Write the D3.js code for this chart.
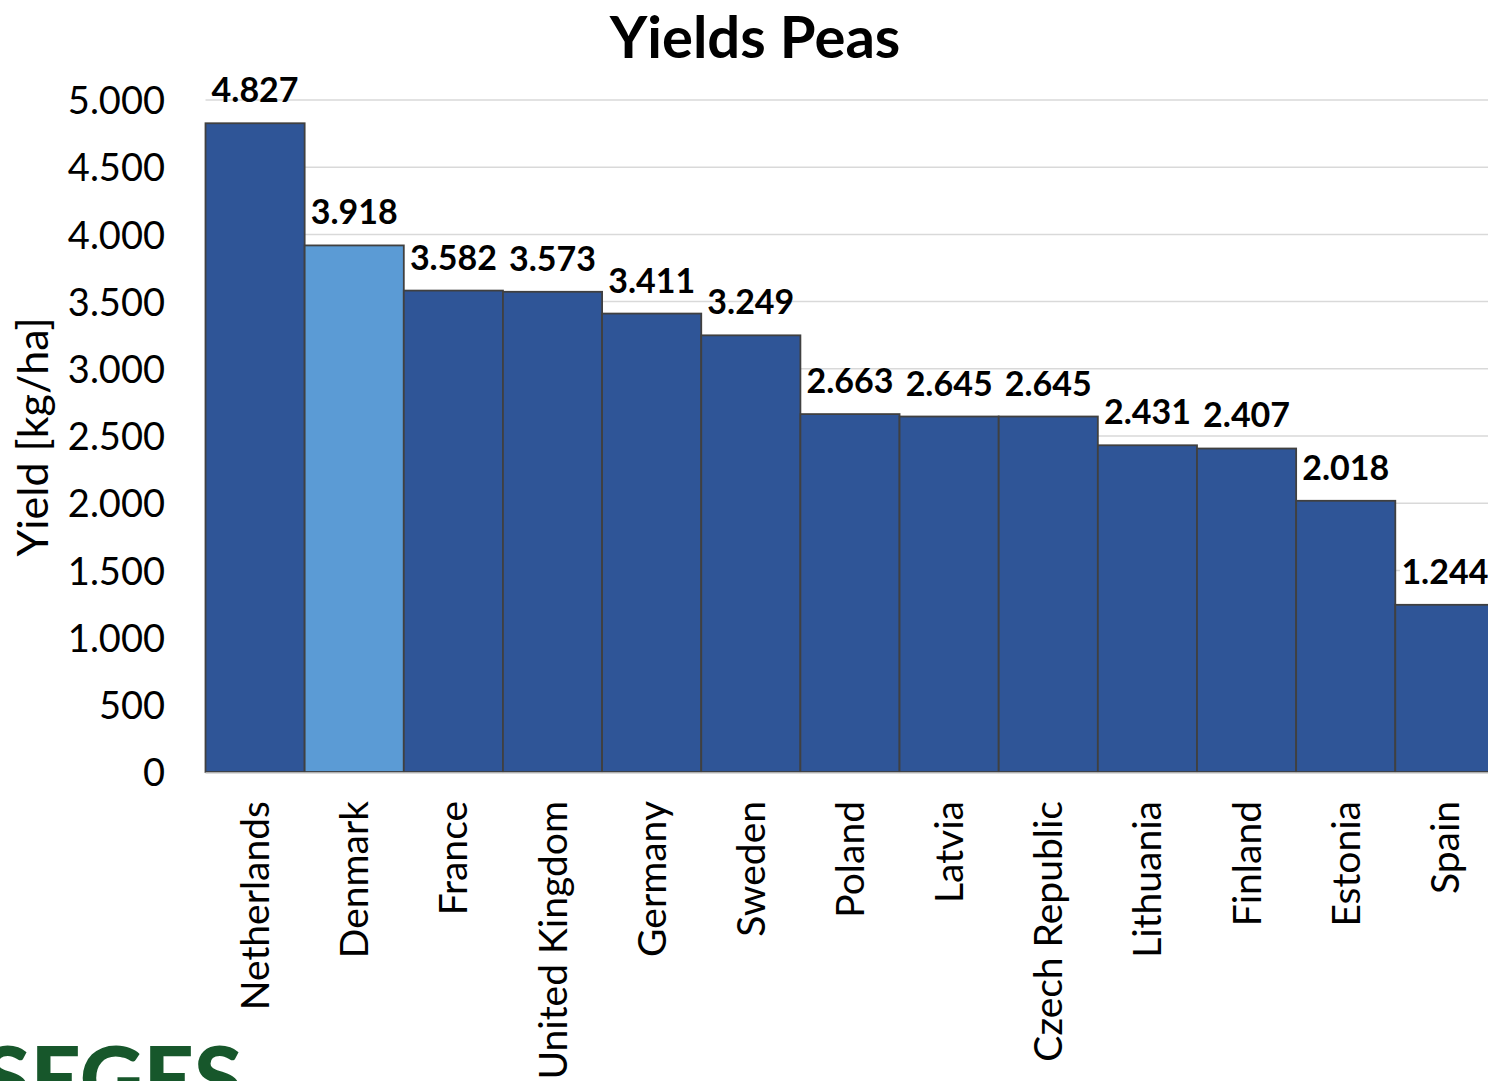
<!DOCTYPE html>
<html><head><meta charset="utf-8">
<script src="https://cdn.jsdelivr.net/npm/d3@7"></script>
<style>body{margin:0;background:#fff;} svg{display:block;font-family:Lato,"Open Sans",sans-serif;}</style>
</head><body>
<svg id="c" width="1488" height="1081"></svg>
<script>
const countries = ["Netherlands","Denmark","France","United Kingdom","Germany","Sweden","Poland","Latvia","Czech Republic","Lithuania","Finland","Estonia","Spain"];
const yields = [4827,3918,3582,3573,3411,3249,2663,2645,2645,2431,2407,2018,1244];
const highlight = ["Denmark"];
const yTicks = [0,500,1000,1500,2000,2500,3000,3500,4000,4500,5000];
const title = "Yields Peas";
const yTitle = "Yield [kg/ha]";

const svg = d3.select("#c");
const plotLeft = 205.5, bandW = 99.15, plotTop = 100, plotBottom = 772;
const x = d3.scaleBand().domain(countries).range([plotLeft, plotLeft + bandW*countries.length]).padding(0);
const y = d3.scaleLinear().domain([0,5000]).range([plotBottom, plotTop]);
const fmt = v => d3.format(",")(v).replace(/,/g,".");

// gridlines
svg.append("g").selectAll("line").data(yTicks.filter(d=>d>0)).join("line")
  .attr("x1", plotLeft).attr("x2", 1488).attr("y1", d=>y(d)).attr("y2", d=>y(d))
  .attr("stroke", "#d9d9d9").attr("stroke-width", 1.5);

// y axis labels
const yAxis = d3.axisLeft(y).tickValues(yTicks).tickFormat(fmt).tickSize(0).tickPadding(0);
const ya = svg.append("g").attr("transform", `translate(165,0)`).call(yAxis);
ya.select(".domain").remove();
ya.selectAll("text").attr("font-size", 38).attr("font-family","Lato").attr("fill","#000").attr("dy","0.36em");

// bars
svg.append("g").selectAll("rect").data(countries).join("rect")
  .attr("x", d=>x(d)).attr("width", x.bandwidth())
  .attr("y", (d,i)=>y(yields[i])).attr("height", (d,i)=>plotBottom - y(yields[i]))
  .attr("fill", d=> highlight.includes(d) ? "#5b9bd5" : "#2f5597")
  .attr("stroke", "#404040").attr("stroke-width", 1.8);

// baseline
svg.append("line").attr("x1", plotLeft).attr("x2", 1488).attr("y1", plotBottom+1).attr("y2", plotBottom+1)
  .attr("stroke", "#d0d0d0").attr("stroke-width", 1.5);

// value labels
const vl = svg.append("g").selectAll("g").data(countries).join("g")
  .attr("transform", (d,i)=>`translate(${x(d)+x.bandwidth()/2},${y(yields[i]) - 21})`);
vl.each(function(d,i){
  const g = d3.select(this);
  if (i === countries.length-1) {
    g.append("rect").attr("x",-45).attr("y",-30).attr("width",90).attr("height",40).attr("fill","#fff");
  }
  g.append("text").attr("text-anchor","middle").attr("font-size",34).attr("font-weight","bold")
    .attr("font-family","Lato").attr("fill","#000").text(fmt(yields[i]));
});

// x axis labels
const xAxis = d3.axisBottom(x).tickSize(0).tickPadding(0);
const xa = svg.append("g").attr("transform", `translate(0,${plotBottom})`).call(xAxis);
xa.select(".domain").remove();
xa.selectAll("text").attr("font-size",39).attr("font-family","Lato").attr("fill","#000")
  .attr("text-anchor","end").attr("transform","rotate(-90)")
  .attr("x", -29).attr("y", 0).attr("dy","0.36em");

// title
svg.append("text").attr("x", 755).attr("y", 58).attr("text-anchor","middle")
  .attr("font-size", 58).attr("font-weight","bold").attr("font-family","Lato").text(title);

// y title
svg.append("text").attr("transform","translate(48,437) rotate(-90)").attr("text-anchor","middle")
  .attr("font-size",43).attr("font-family","Lato").text(yTitle);

// logo
svg.append("text").attr("x", -18).attr("y", 1110).attr("font-size", 88).attr("font-weight","900")
  .attr("font-family","Lato").attr("fill","#17572b").text("SEGES");
</script>
</body></html>
